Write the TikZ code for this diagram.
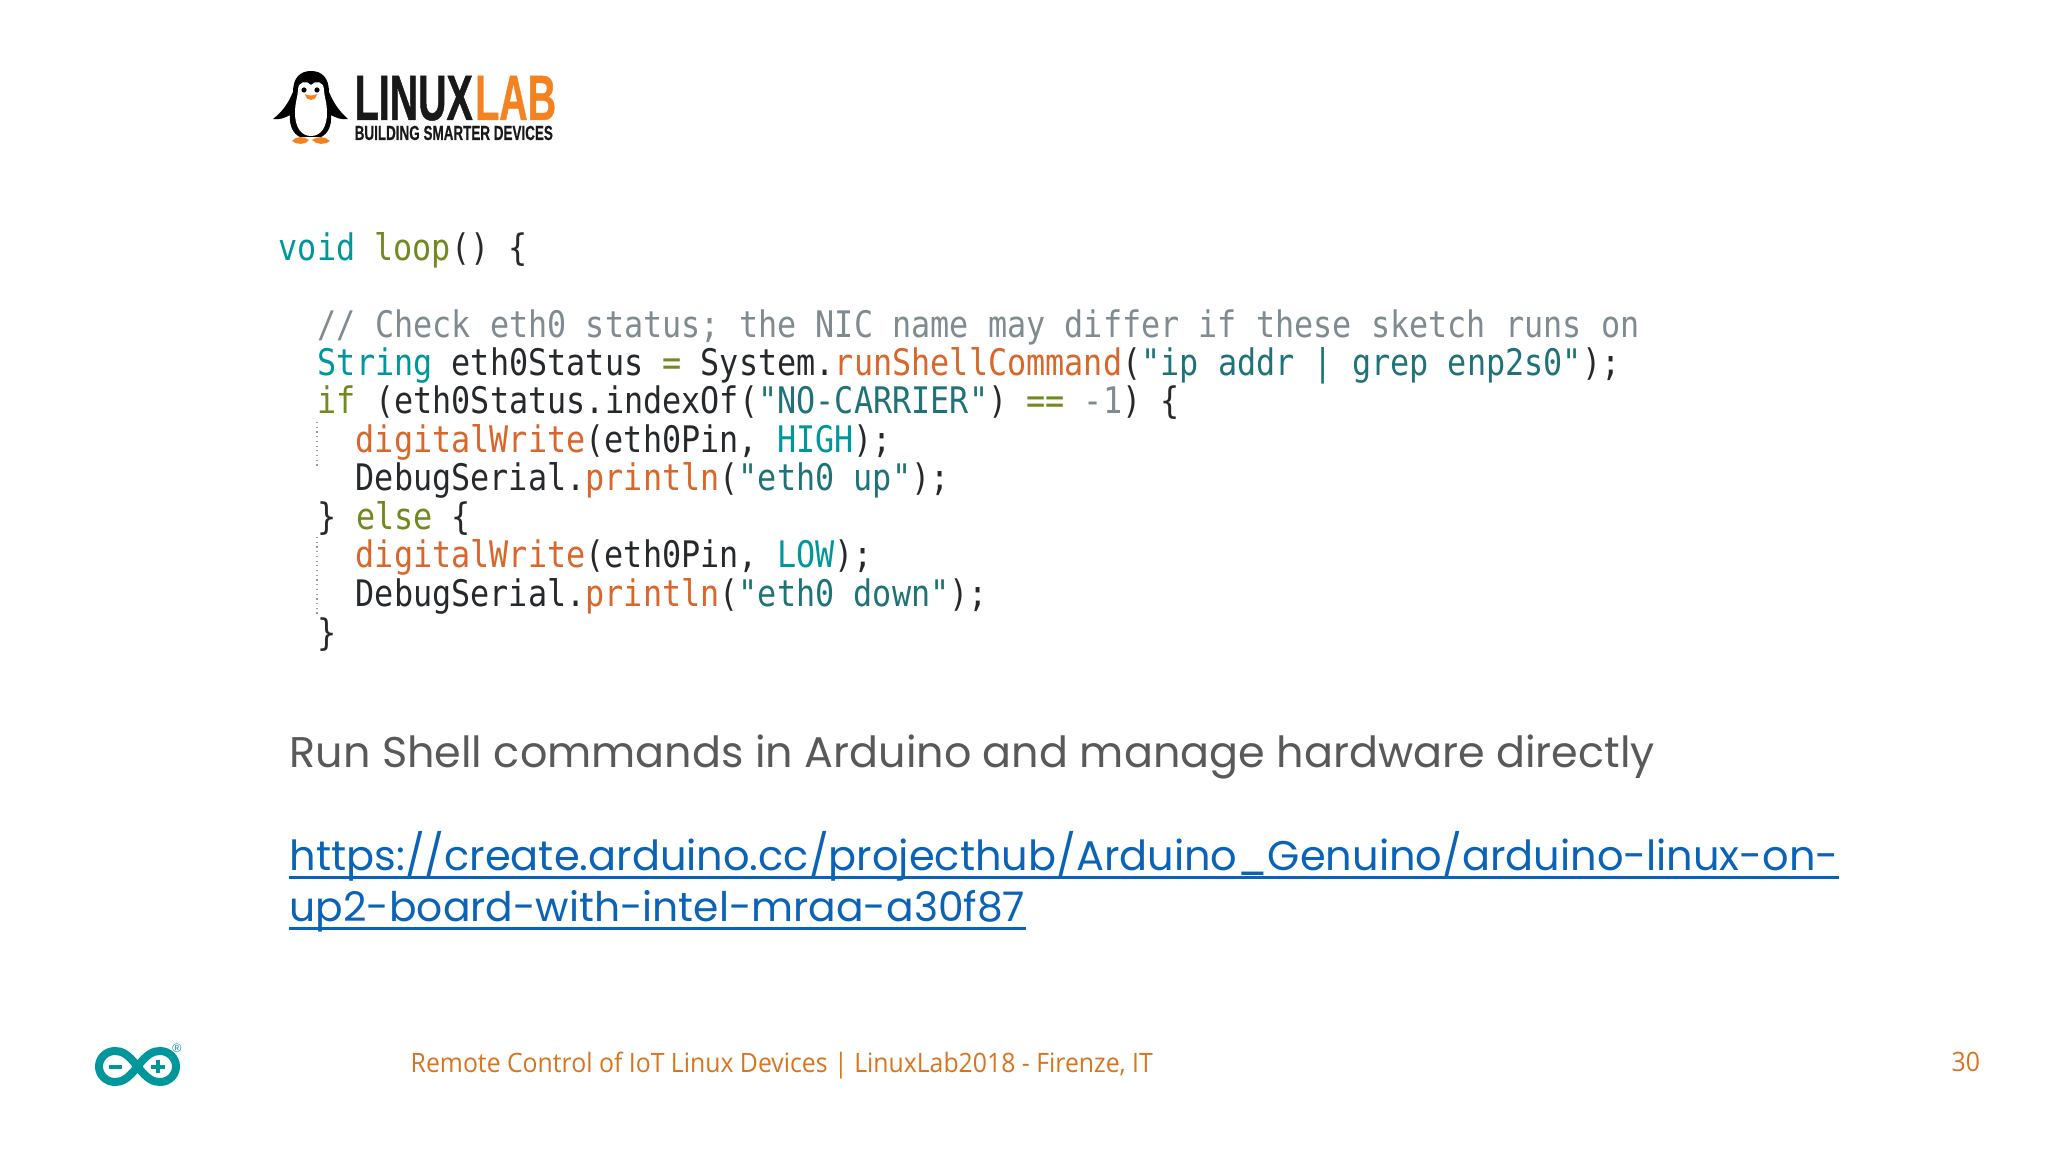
\documentclass[tikz,border=0pt]{standalone}
\usepackage{fontspec}
\usetikzlibrary{positioning}
\setmainfont{Liberation Sans}
\newfontfamily\codefont[FakeStretch=0.87]{DejaVu Sans Mono}
\newfontfamily\slidefont{Poppins}
\newfontfamily\footfont[FakeStretch=0.928]{Open Sans}
\newfontfamily\logofont[FakeStretch=0.615,BoldFeatures={FakeBold=0.7}]{Liberation Sans}
\newfontfamily\claimfont[FakeStretch=0.66,BoldFeatures={FakeBold=0.4}]{Liberation Sans}
\definecolor{arduinoteal}{HTML}{00979C}
\definecolor{stringteal}{HTML}{1F7378}
\definecolor{keygreen}{HTML}{6F8A1E}
\definecolor{funcorange}{HTML}{D9662B}
\definecolor{commentgray}{HTML}{7F8B90}
\definecolor{codeblack}{HTML}{26292B}
\definecolor{slidegray}{HTML}{595959}
\definecolor{linkblue}{HTML}{0B63B8}
\definecolor{footorange}{HTML}{D9741E}
\definecolor{logoorange}{HTML}{F58220}
\newcommand{\kw}[1]{\textcolor{arduinoteal}{#1}}
\newcommand{\ctl}[1]{\textcolor{keygreen}{#1}}
\newcommand{\fn}[1]{\textcolor{funcorange}{#1}}
\newcommand{\str}[1]{\textcolor{stringteal}{#1}}
\begin{document}
\begin{tikzpicture}[x=0.01cm, y=-0.01cm,
                codeline/.style={anchor=base west, inner sep=0pt, text=codeblack,
                               font=\codefont\fontsize{10.4}{12}\selectfont},
                slidetext/.style={anchor=base west, inner sep=0pt, text=slidegray,
                               font=\slidefont\fontsize{12.2}{15}\selectfont},
                linktext/.style={slidetext, text=linkblue},
                linkrule/.style={draw=linkblue, line width=0.022cm},
                foottext/.style={anchor=base west, inner sep=0pt, text=footorange,
                               font=\footfont\fontsize{7.6}{9}\selectfont},
                logotext/.style={anchor=base west, inner sep=0pt, text=black!90,
                               font=\logofont\bfseries\fontsize{18.2}{20}\selectfont},
                guide/.style={draw=black!40, densely dotted, line width=0.012cm}]

                \useasboundingbox (0,0) rectangle (2048,1152);

                % Penguin of the logo
                \fill[black] (273,119) .. controls (282,112) and (288,104) .. (293,92)
                    .. controls (293,78) and (300,71) .. (311,71)
                    .. controls (322,71) and (329,78) .. (329,92)
                    .. controls (334,104) and (340,112) .. (348,119)
                    .. controls (342,120) and (336,118) .. (331,115)
                    .. controls (332,125) and (328,134) .. (321,137)
                    -- (300,137) .. controls (293,134) and (289,125) .. (290,115)
                    .. controls (285,118) and (279,120) .. (273,119) -- cycle;
                \fill[white] (311,85) .. controls (307,80) and (298,81) .. (298,90)
                    .. controls (298,96) and (295,102) .. (295,113)
                    .. controls (295,127) and (301,136) .. (311,136)
                    .. controls (321,136) and (327,127) .. (327,113)
                    .. controls (327,102) and (324,96) .. (324,90)
                    .. controls (324,81) and (315,80) .. (311,85) -- cycle;
                \fill[black] (304,90) circle (2.6) (317,90) circle (2.6);
                \fill[logoorange] (305,94) .. controls (309,96) and (313,96) .. (317,94)
                    .. controls (316,99) and (313,100) .. (311,100)
                    .. controls (309,100) and (306,99) .. (305,94) -- cycle;
                \fill[logoorange] (292,141) .. controls (296,136) and (304,136) .. (309,140)
                    .. controls (306,145) and (296,145) .. (292,141) -- cycle;
                \fill[logoorange] (312,140) .. controls (317,136) and (325,136) .. (330,141)
                    .. controls (326,145) and (316,145) .. (312,140) -- cycle;

                % Logo lettering
                \node[logotext] (linux) at (354,120) {LINUX};
                \node[logotext, text=logoorange, right=0.01cm of linux.base east, anchor=base west] (lab) {LAB};
                \node[logotext, font=\claimfont\bfseries\fontsize{5.8}{7}\selectfont] (claim) at (354,140)
                    {BUILDING SMARTER DEVICES};

                % Sketch lines
                \node[codeline] (head) at (278,260.5) {\kw{void} \ctl{loop}() \{};
                \node[codeline] (comment) at (317,337.5)
                    {\textcolor{commentgray}{// Check eth0 status; the NIC name may differ if these sketch runs on}};
                \node[codeline] (status) at (317,375.5)
                    {\kw{String} eth0Status \ctl{=} System.\fn{runShellCommand}(\str{"ip addr | grep enp2s0"});};
                \node[codeline] (test) at (317,413.5)
                    {\ctl{if} (eth0Status.indexOf(\str{"NO-CARRIER"}) \ctl{==} \textcolor{commentgray}{-1}) \{};
                \node[codeline] (high) at (355,452.5) {\fn{digitalWrite}(eth0Pin, \kw{HIGH});};
                \node[codeline] (up) at (355,490.5) {DebugSerial.\fn{println}(\str{"eth0 up"});};
                \node[codeline] (else) at (317,529.5) {\} \ctl{else} \{};
                \node[codeline] (low) at (355,567.5) {\fn{digitalWrite}(eth0Pin, \kw{LOW});};
                \node[codeline] (down) at (355,606.5) {DebugSerial.\fn{println}(\str{"eth0 down"});};
                \node[codeline] (close) at (317,645.5) {\}};

                % Indent guides
                \draw[guide] (317,422) -- (317,468);
                \draw[guide] (317,537) -- (317,616);

                % Caption and link
                \node[slidetext] (caption) at (289,767.5) {Run Shell commands in Arduino and manage hardware directly};
                \node[linktext, font=\slidefont\fontsize{11.8}{15}\selectfont] (linkone) at (289,870.5)
                    {https://create.arduino.cc/projecthub/Arduino\_Genuino/arduino-linux-on-};
                \node[linktext, font=\slidefont\fontsize{11.6}{15}\selectfont] (linktwo) at (289,921.5)
                    {up2-board-with-intel-mraa-a30f87};
                \draw[linkrule] ([yshift=-0.07cm]linkone.base west) -- ([yshift=-0.07cm]linkone.base east);
                \draw[linkrule] ([yshift=-0.07cm]linktwo.base west) -- ([yshift=-0.07cm]linktwo.base east);

                % Arduino mark
                \draw[arduinoteal, line width=0.08cm] (137.5,1066.5)
                    .. controls (128,1054) and (122,1051) .. (115,1051)
                    .. controls (106,1051) and (99,1058) .. (99,1066.5)
                    .. controls (99,1075) and (106,1082) .. (115,1082)
                    .. controls (122,1082) and (128,1079) .. (137.5,1066.5)
                    .. controls (147,1054) and (153,1051) .. (160,1051)
                    .. controls (169,1051) and (176,1058) .. (176,1066.5)
                    .. controls (176,1075) and (169,1082) .. (160,1082)
                    .. controls (153,1082) and (147,1079) .. (137.5,1066.5) -- cycle;
                \draw[arduinoteal, line width=0.04cm] (109,1066.5) -- (122,1066.5);
                \draw[arduinoteal, line width=0.04cm] (151,1066.5) -- (165,1066.5) (158,1060) -- (158,1073);
                \node[inner sep=0pt, text=arduinoteal, font=\fontsize{3.5}{4}\selectfont] (mark) at (177,1048) {\textregistered};

                % Footer
                \node[foottext] (footer) at (410,1072) {Remote Control of IoT Linux Devices | LinuxLab2018 - Firenze, IT};
                \node[foottext] (pagenum) at (1951,1071) {30};
            \end{tikzpicture}
\end{document}
